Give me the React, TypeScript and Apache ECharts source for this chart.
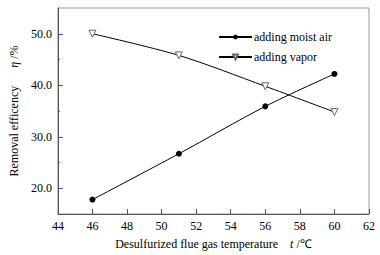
import React, { useEffect, useRef } from "react";
import * as echarts from "echarts";

const temperatures = [46, 51, 56, 60];
const moistAir = [17.8, 26.7, 35.9, 42.2];
const vapor = [50.0, 45.8, 39.8, 34.8];
const yMajorTicks = [20, 30, 40, 50];
const yMinorTicks = [25, 35, 45];

const FONT = "'Liberation Serif', 'Times New Roman', serif";

export default function App() {
  const ref = useRef<HTMLDivElement>(null);
  useEffect(() => {
    if (!ref.current) return;
    const chart = echarts.init(ref.current, null, { renderer: "svg" });
    const axisColor = "#555";
    chart.setOption({
      animation: false,
      backgroundColor: "#fff",
      textStyle: { fontFamily: FONT, color: "#000" },
      grid: {
        left: 53,
        right: 11,
        top: 8,
        bottom: 39,
        show: true,
        borderColor: "#999",
        borderWidth: 1,
      },
      legend: {
        orient: "vertical",
        left: 213,
        top: 26,
        itemWidth: 33,
        itemHeight: 6,
        itemGap: 8,
        textStyle: { fontFamily: FONT, fontSize: 12, color: "#000", padding: [0, 0, 0, -3] },
        data: ["adding moist air", "adding vapor"],
      },
      xAxis: {
        type: "value",
        min: 44,
        max: 62,
        interval: 2,
        name: "Desulfurized flue gas temperature    {i|t} /℃",
        nameLocation: "middle",
        nameGap: 24,
        nameTextStyle: {
          fontFamily: FONT,
          fontSize: 12,
          color: "#000",
          rich: { i: { fontStyle: "italic", fontFamily: FONT, fontSize: 12 } },
        },
        axisLine: { show: true, lineStyle: { color: axisColor, width: 1 } },
        axisTick: { show: true, inside: true, length: 5, lineStyle: { color: axisColor } },
        axisLabel: { fontFamily: FONT, fontSize: 12, color: "#000", margin: 6 },
        splitLine: { show: false },
      },
      yAxis: [
        {
          type: "value",
          min: 15,
          max: 55,
          name: "Removal efficency      {i|η} /%",
          nameLocation: "middle",
          nameGap: 34,
          nameRotate: 90,
          nameTextStyle: {
            fontFamily: FONT,
            fontSize: 12,
            color: "#000",
            rich: { i: { fontStyle: "italic", fontFamily: FONT, fontSize: 12 } },
          },
          axisLine: { show: true, lineStyle: { color: axisColor, width: 1 } },
          axisTick: {
            show: true,
            inside: true,
            length: 5,
            customValues: yMajorTicks,
            lineStyle: { color: axisColor },
          },
          axisLabel: {
            fontFamily: FONT,
            fontSize: 12,
            color: "#000",
            margin: 6,
            customValues: yMajorTicks,
            formatter: (v: number) => v.toFixed(1),
          },
          splitLine: { show: false },
        },
        {
          type: "value",
          min: 15,
          max: 55,
          position: "left",
          axisLine: { show: false },
          axisTick: {
            show: true,
            inside: true,
            length: 2,
            customValues: yMinorTicks,
            lineStyle: { color: axisColor },
          },
          axisLabel: { show: false },
          splitLine: { show: false },
        },
      ],
      series: [
        {
          name: "adding moist air",
          type: "line",
          data: temperatures.map((t, i) => [t, moistAir[i]]),
          smooth: 0.3,
          symbol: "circle",
          symbolSize: 6,
          lineStyle: { color: "#000", width: 1 },
          itemStyle: { color: "#000" },
        },
        {
          name: "adding vapor",
          type: "line",
          data: temperatures.map((t, i) => [t, vapor[i]]),
          smooth: 0.3,
          symbol: "triangle",
          symbolRotate: 180,
          symbolSize: 7,
          lineStyle: { color: "#000", width: 1 },
          itemStyle: { color: "#fff", borderColor: "#666", borderWidth: 1 },
        },
      ],
    });
    return () => chart.dispose();
  }, []);
  return (
    <div
      ref={ref}
      style={{ position: "fixed", left: 0, top: 0, width: 380, height: 255 }}
    />
  );
}
